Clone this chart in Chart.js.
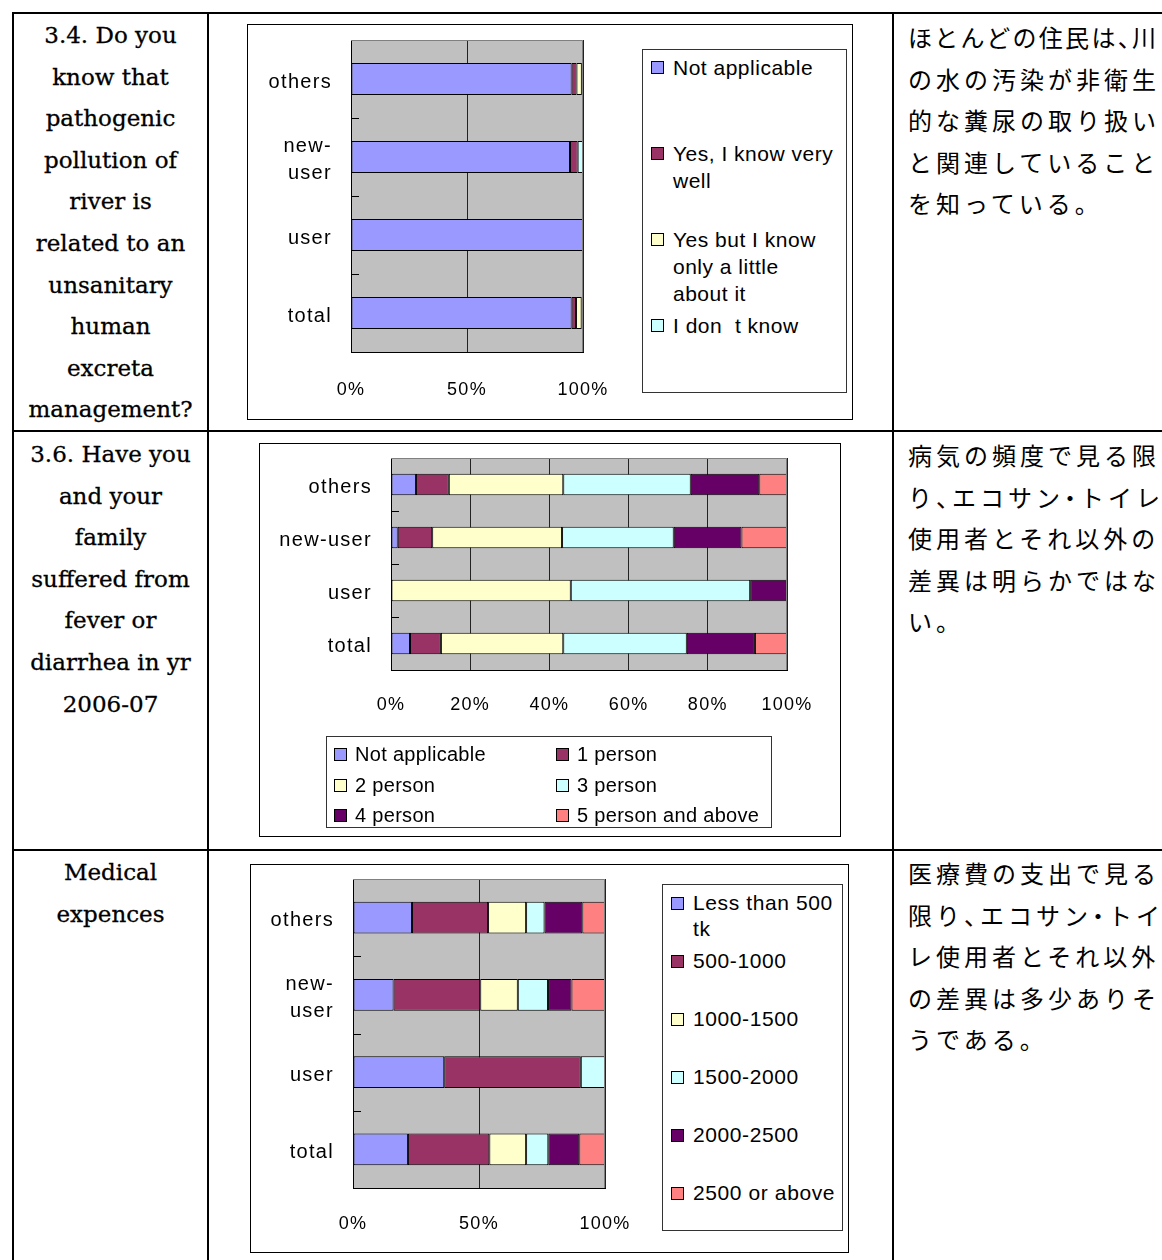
<!DOCTYPE html>
<html>
<head>
<meta charset="utf-8">
<script src="https://cdn.jsdelivr.net/npm/chart.js@4.4.1/dist/chart.umd.min.js"></script>
<style>
body { margin: 0; background: #fff; width: 1162px; height: 1260px; overflow: hidden; position: relative; }
.ln { position: absolute; background: #000; }
.q { position: absolute; left: 14px; width: 193px; text-align: center; font-family: 'DejaVu Serif', serif; font-size: 23px; line-height: 41.6px; color: #000; -webkit-text-stroke: 0.3px #000; }
.jp { position: absolute; left: 908px; font-family: 'Noto Sans CJK JP', sans-serif; font-size: 24px; letter-spacing: 4px; line-height: 41.6px; white-space: nowrap; color: #000; }
.h { font-feature-settings: "halt"; }
.frame { position: absolute; border: 1px solid #000; background: #fff; }
.frame canvas { display: block; }
.lg { position: absolute; border: 1px solid #333; font-family: 'Liberation Sans', Arial, sans-serif; color: #000; background: #fff; }
.item { position: absolute; white-space: pre; }
.sw { position: absolute; left: 0; width: 11px; height: 11px; border: 1px solid #000; }
</style>
</head>
<body>

<!-- table lines -->
<div class="ln" style="left:12px;top:12px;width:1150px;height:2px"></div>
<div class="ln" style="left:12px;top:12px;width:2px;height:1248px"></div>
<div class="ln" style="left:207px;top:12px;width:2px;height:1248px"></div>
<div class="ln" style="left:892px;top:12px;width:2px;height:1248px"></div>
<div class="ln" style="left:12px;top:430px;width:1150px;height:2px"></div>
<div class="ln" style="left:12px;top:849px;width:1150px;height:2px"></div>

<div class="q" style="top:15px">3.4. Do you<br>know that<br>pathogenic<br>pollution of<br>river is<br>related to an<br>unsanitary<br>human<br>excreta<br>management?</div>
<div class="q" style="top:434px">3.6. Have you<br>and your<br>family<br>suffered from<br>fever or<br>diarrhea in yr<br>2006-07</div>
<div class="q" style="top:852px">Medical<br>expences</div>

<div class="jp" style="top:16px"><span style="letter-spacing:2.3px">ほとんどの住民は<span class="h">、</span>川</span><br>の水の汚染が非衛生<br>的な糞尿の取り扱い<br>と関連していること<br>を知っている<span class="h">。</span></div>
<div class="jp" style="top:434px">病気の頻度で見る限<br>り<span class="h">、</span>エコサン<span class="h">・</span>トイレ<br>使用者とそれ以外の<br>差異は明らかではな<br>い<span class="h">。</span></div>
<div class="jp" style="top:852px">医療費の支出で見る<br>限り<span class="h">、</span>エコサン<span class="h">・</span>トイ<br>レ使用者とそれ以外<br>の差異は多少ありそ<br>うである<span class="h">。</span></div>

<div class="frame" style="left:247px;top:24px"><canvas id="chart1" width="604" height="394"></canvas></div>
<div class="frame" style="left:259px;top:443px"><canvas id="chart2" width="580" height="392"></canvas></div>
<div class="frame" style="left:250px;top:864px"><canvas id="chart3" width="597" height="387"></canvas></div>

<div class="lg" id="legend1" style="left:642px;top:49px;width:203px;height:342px;font-size:21px;letter-spacing:0.5px"></div>
<div class="lg" id="legend2" style="left:326px;top:736px;width:444px;height:90px;font-size:20px;letter-spacing:0.3px"></div>
<div class="lg" id="legend3" style="left:662px;top:884px;width:179px;height:345px;font-size:21px;letter-spacing:0.6px"></div>

<script>
//Colours (Excel palette)
const blue = '#9999ff';
const maroon = '#993366';
const cream = '#ffffcc';
const aqua = '#ccffff';
const plum = '#660066';
const salmon = '#ff8080';

//Chart 1 - knowledge of pathogenic pollution
const categories1 = ['others', ['new-', 'user'], 'user', 'total'];
const series1 = ['Not applicable', 'Yes, I know very\nwell', 'Yes but I know\nonly a little\nabout it', 'I don  t know'];
const notApplicable1 = [95.1, 94.4, 100, 95.1];
const knowWell1 = [2.1, 3.3, 0, 1.9];
const knowLittle1 = [2.3, 0, 0, 2.4];
const dontKnow1 = [0.5, 2.3, 0, 0.6];

//Chart 2 - family members with fever or diarrhea
const categories2 = ['others', 'new-user', 'user', 'total'];
const series2 = ['Not applicable', '1 person', '2 person', '3 person', '4 person', '5 person and above'];
const notApplicable2 = [6.3, 1.7, 0, 4.8];
const person1 = [8.3, 8.7, 0, 7.8];
const person2 = [28.9, 32.8, 45.4, 30.9];
const person3 = [32.2, 28.2, 45.3, 31.2];
const person4 = [17.3, 17.1, 9.3, 17.2];
const person5 = [7.0, 11.5, 0, 8.1];

//Chart 3 - medical expences
const categories3 = ['others', ['new-', 'user'], 'user', 'total'];
const series3 = ['Less than 500\ntk', '500-1000', '1000-1500', '1500-2000', '2000-2500', '2500 or above'];
const below500 = [23.4, 16.1, 36.2, 21.8];
const from500 = [30.2, 34.4, 54.2, 32.3];
const from1000 = [15.1, 14.9, 0, 14.6];
const from1500 = [7.3, 12.0, 9.6, 8.8];
const from2000 = [15.0, 9.3, 0, 12.3];
const from2500 = [9.0, 13.3, 0, 10.2];

Chart.defaults.font.family = "'Liberation Sans', Arial, sans-serif";
Chart.defaults.color = '#000';

//gray plot area, frame edges and the small category ticks
const plotFrame = {
    id: 'plotFrame',
    beforeUpdate(chart) {
        chart.ctx.letterSpacing = '1.3px';
    },
    beforeDraw(chart) {
        const { ctx, chartArea: a } = chart;
        ctx.letterSpacing = '1.3px';
        ctx.save();
        ctx.fillStyle = '#c0c0c0';
        ctx.fillRect(a.left, a.top, a.right - a.left, a.bottom - a.top);
        ctx.restore();
    },
    afterDraw(chart) {
        const { ctx, chartArea: a } = chart;
        const n = chart.data.labels.length;
        ctx.save();
        ctx.lineWidth = 1;
        ctx.strokeStyle = '#808080';
        ctx.beginPath();
        ctx.moveTo(a.left, a.top + 0.5);
        ctx.lineTo(a.right - 0.5, a.top + 0.5);
        ctx.lineTo(a.right - 0.5, a.bottom);
        ctx.stroke();
        ctx.strokeStyle = '#000';
        ctx.beginPath();
        const band = (a.bottom - a.top) / n;
        for (let i = 1; i < n; i++) {
            const py = Math.round(a.top + i * band) + 0.5;
            ctx.moveTo(a.left, py);
            ctx.lineTo(a.left + 8, py);
        }
        ctx.stroke();
        ctx.restore();
    }
};

function makeDatasets(names, values, colors) {
    return names.map((name, i) => ({
        label: name,
        data: values[i],
        backgroundColor: colors[i],
        borderColor: '#000',
        borderWidth: 1,
        borderSkipped: false,
        categoryPercentage: 1,
        barPercentage: 0.41
    }));
}

function makeOptions(cfg) {
    return {
        indexAxis: 'y',
        responsive: false,
        animation: false,
        layout: { autoPadding: false, padding: { left: 0, right: cfg.right, top: cfg.top, bottom: cfg.bottom } },
        plugins: { legend: { display: false }, tooltip: { enabled: false } },
        scales: {
            x: {
                stacked: true,
                min: 0,
                max: 100,
                ticks: {
                    stepSize: cfg.step,
                    callback: v => v + '%',
                    font: { size: 18 },
                    padding: cfg.xPad,
                    maxRotation: 0
                },
                grid: { color: '#222', drawTicks: false },
                border: { display: true, color: '#000' },
                afterFit: s => { s.height = cfg.xHeight; s.paddingLeft = 0; s.paddingRight = 0; }
            },
            y: {
                stacked: true,
                ticks: { font: { size: 20, lineHeight: 1.35 }, padding: 19, labelOffset: 3 },
                grid: { display: false, drawTicks: false },
                border: { display: true, color: '#000' },
                afterFit: s => { s.width = cfg.yWidth; s.paddingTop = 0; s.paddingBottom = 0; }
            }
        }
    };
}

function buildLegend(chart, box, cfg) {
    chart.data.datasets.forEach((ds, i) => {
        const col = i % cfg.cols;
        const row = Math.floor(i / cfg.cols);
        const item = document.createElement('div');
        item.className = 'item';
        item.style.left = (cfg.padX + col * cfg.colW) + 'px';
        item.style.top = (cfg.padY + row * cfg.rowH) + 'px';
        item.style.lineHeight = cfg.lh + 'px';
        const sw = document.createElement('div');
        sw.className = 'sw';
        sw.style.top = Math.round((cfg.lh - 13) / 2) + 'px';
        sw.style.background = ds.backgroundColor;
        const txt = document.createElement('div');
        txt.style.marginLeft = cfg.textX + 'px';
        txt.textContent = ds.label;
        item.appendChild(sw);
        item.appendChild(txt);
        box.appendChild(item);
    });
}

const myChart1 = new Chart(document.querySelector('#chart1'), {
    type: 'bar',
    data: {
        labels: categories1,
        datasets: makeDatasets(series1, [notApplicable1, knowWell1, knowLittle1, dontKnow1], [blue, maroon, cream, aqua])
    },
    options: makeOptions({ right: 269, top: 15, bottom: 0, step: 50, xPad: 27, xHeight: 67, yWidth: 103 }),
    plugins: [plotFrame]
});

const myChart2 = new Chart(document.querySelector('#chart2'), {
    type: 'bar',
    data: {
        labels: categories2,
        datasets: makeDatasets(series2, [notApplicable2, person1, person2, person3, person4, person5], [blue, maroon, cream, aqua, plum, salmon])
    },
    options: makeOptions({ right: 53, top: 14, bottom: 116, step: 20, xPad: 24, xHeight: 50, yWidth: 131 }),
    plugins: [plotFrame]
});

const myChart3 = new Chart(document.querySelector('#chart3'), {
    type: 'bar',
    data: {
        labels: categories3,
        datasets: makeDatasets(series3, [below500, from500, from1000, from1500, from2000, from2500], [blue, maroon, cream, aqua, plum, salmon])
    },
    options: makeOptions({ right: 243, top: 14, bottom: 0, step: 50, xPad: 25, xHeight: 64, yWidth: 102 }),
    plugins: [plotFrame]
});

buildLegend(myChart1, document.querySelector('#legend1'), { cols: 1, colW: 0, rowH: 86, lh: 27, padX: 8, padY: 4, textX: 22 });
buildLegend(myChart2, document.querySelector('#legend2'), { cols: 2, colW: 222, rowH: 30.5, lh: 30.5, padX: 7, padY: 2, textX: 21 });
buildLegend(myChart3, document.querySelector('#legend3'), { cols: 1, colW: 0, rowH: 58, lh: 26, padX: 8, padY: 5, textX: 22 });
</script>
</body>
</html>
